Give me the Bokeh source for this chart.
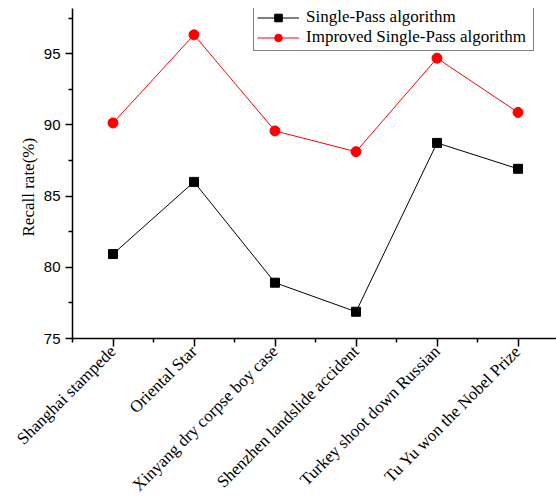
from bokeh.plotting import figure
from bokeh.models import Range1d, FixedTicker, Legend, LegendItem, Title
from bokeh.embed import file_html
from bokeh.resources import INLINE

categories = ["Shanghai stampede", "Oriental Star", "Xinyang dry corpse boy case",
              "Shenzhen landslide accident", "Turkey shoot down Russian",
              "Tu Yu won the Nobel Prize"]
single_pass = [80.93, 86.0, 78.92, 76.88, 88.74, 86.92]
improved = [90.14, 96.33, 89.58, 88.12, 94.69, 90.88]
y_ticks = [75, 80, 85, 90, 95]
y_minor = [77.5, 82.5, 87.5, 92.5, 97.5]

x = list(range(1, len(categories) + 1))

p = figure(width=556, height=504, output_backend="svg", toolbar_location=None,
           x_range=Range1d(0.5, 6.475), y_range=Range1d(75, 98.18),
           min_border_left=72, min_border_right=0, min_border_top=8,
           min_border_bottom=164)
p.outline_line_color = None
p.grid.visible = False
p.background_fill_color = "white"
p.border_fill_color = "white"

r1l = p.line(x, single_pass, line_color="black", line_width=1)
r1m = p.scatter(x, single_pass, marker="square", size=9, fill_color="black", line_color="black")
r2l = p.line(x, improved, line_color="red", line_width=1)
r2m = p.scatter(x, improved, marker="circle", size=10, fill_color="red", line_color="red")

xa = p.xaxis[0]
xa.ticker = FixedTicker(ticks=x, minor_ticks=[i + 0.5 for i in range(0, 7)])
xa.major_label_overrides = {i: c for i, c in zip(x, categories)}
xa.major_label_orientation = 0.7854
xa.major_label_text_font = "Liberation Serif"
xa.major_label_text_font_size = "17px"
xa.major_label_text_color = "black"
xa.major_label_standoff = 2
xa.axis_line_width = 1.5
xa.axis_line_color = "black"
xa.major_tick_out = 8
xa.major_tick_in = 0
xa.minor_tick_out = 4
xa.minor_tick_in = 0
xa.major_tick_line_width = 1.5
xa.minor_tick_line_width = 1.5

ya = p.yaxis[0]
ya.ticker = FixedTicker(ticks=y_ticks, minor_ticks=y_minor)
ya.major_label_text_font = "Liberation Sans"
ya.major_label_text_font_size = "15px"
ya.major_label_text_color = "black"
ya.axis_line_width = 1.5
ya.axis_line_color = "black"
ya.major_tick_out = 7
ya.major_tick_in = 0
ya.minor_tick_out = 4
ya.minor_tick_in = 0
ya.major_tick_line_width = 1.5
ya.minor_tick_line_width = 1.5

ylab = Title(text="Recall rate(%)", align="left", offset=102,
             text_font="Liberation Serif", text_font_size="17px",
             text_font_style="normal", text_color="black", standoff=6)
p.add_layout(ylab, "left")

legend = Legend(items=[
    LegendItem(label="Single-Pass algorithm", renderers=[r1l, r1m]),
    LegendItem(label="Improved Single-Pass algorithm", renderers=[r2l, r2m]),
], location=(181, 287))
legend.label_text_font = "Liberation Serif"
legend.label_text_font_size = "17px"
legend.label_text_color = "black"
legend.border_line_color = "black"
legend.border_line_width = 1
legend.padding = 3
legend.margin = 0
legend.spacing = 0
legend.glyph_width = 42
legend.glyph_height = 19
legend.label_height = 19
legend.label_width = 224
legend.label_standoff = 7
legend.background_fill_alpha = 1
p.add_layout(legend)

open("out.html", "w").write(file_html(p, INLINE))
